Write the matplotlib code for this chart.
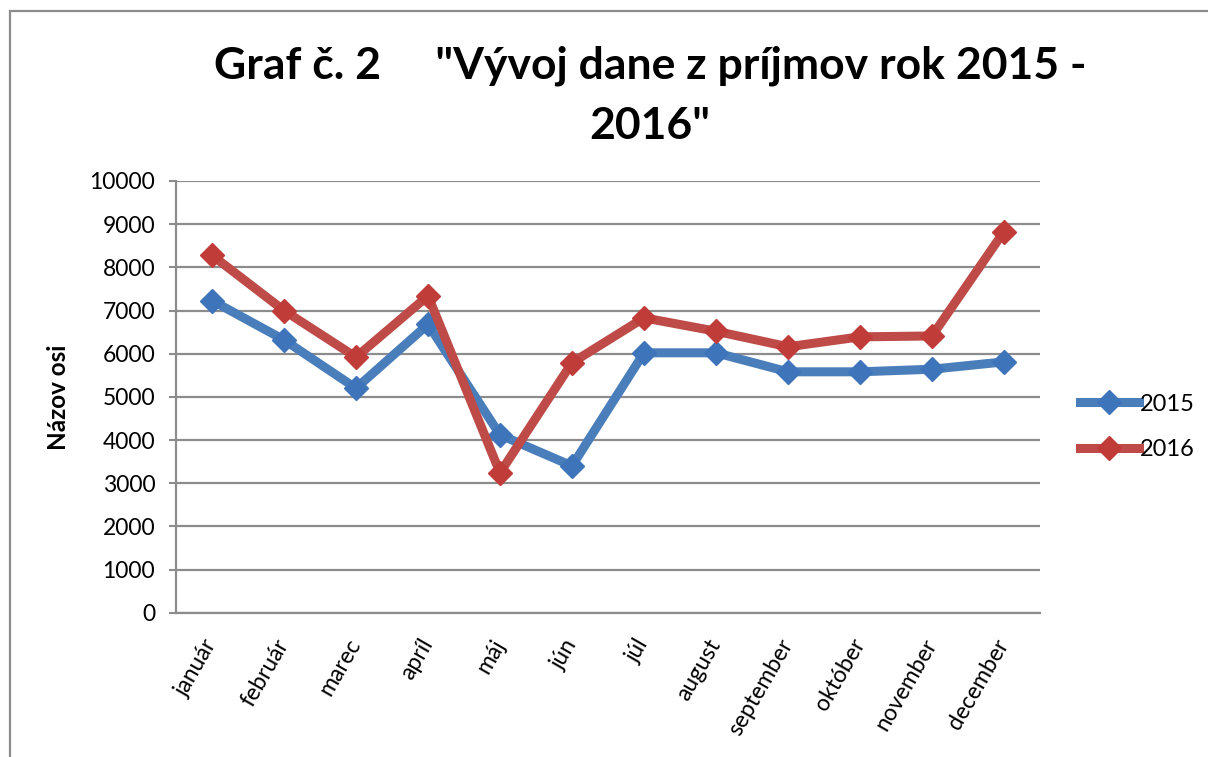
import matplotlib.pyplot as plt
from matplotlib.patches import Rectangle

mesiace = ['január', 'február', 'marec', 'apríl', 'máj', 'jún', 'júl',
           'august', 'september', 'október', 'november', 'december']
dan_2015 = [7230, 6320, 5200, 6680, 4120, 3400, 6020, 6020, 5580, 5580, 5640, 5810]
dan_2016 = [8280, 7000, 5920, 7340, 3240, 5790, 6830, 6520, 6160, 6390, 6410, 8830]
y_ticks = list(range(0, 10001, 1000))

plt.rcParams['font.family'] = ['Lato', 'DejaVu Sans']

fig = plt.figure(figsize=(12.08, 7.57), dpi=100)
ax = fig.add_axes([176 / 1208, 1 - 612.7 / 757, (1040 - 176) / 1208, (612.7 - 181) / 757])

# ramik okolo celeho grafu
fig.patches.append(Rectangle((9.5 / 1208, -0.1), 1.2, 1 - 10.5 / 757 + 0.1,
                             transform=fig.transFigure, fill=False,
                             edgecolor='#8c8c8c', lw=1.6))

x = range(len(mesiace))
ax.plot(x, dan_2015, color='#4a7ebb', lw=6.5, marker='D', ms=12,
        mfc='#3d74ba', mec='#3d74ba', label='2015', zorder=3)
ax.plot(x, dan_2016, color='#be4b48', lw=6.5, marker='D', ms=12,
        mfc='#c03c39', mec='#c03c39', label='2016', zorder=3)

ax.set_xlim(-0.5, len(mesiace) - 0.5)
ax.set_ylim(0, 10000)
ax.set_yticks(y_ticks)
ax.set_yticklabels([str(v) for v in y_ticks], fontsize=16.5)
ax.set_xticks(list(x))
ax.set_xticklabels(mesiace, fontsize=16.5, rotation=60, ha='right', va='center',
                   rotation_mode='anchor')
ax.tick_params(axis='x', length=0, pad=20)
ax.tick_params(axis='y', length=5, width=1.5, color='#8c8c8c', pad=10)

ax.grid(axis='y', color='#8c8c8c', lw=1.6)
ax.set_axisbelow(True)
for s in ['top', 'right']:
    ax.spines[s].set_visible(False)
for s in ['left', 'bottom']:
    ax.spines[s].set_color('#8c8c8c')
    ax.spines[s].set_linewidth(1.6)

ax.set_ylabel('Názov osi', fontsize=17.5, fontweight='bold', labelpad=14)

fig.text(0.538, 1 - 96 / 757, 'Graf č. 2     "Vývoj dane z príjmov rok 2015 -\n2016"',
         ha='center', va='center', fontsize=32, fontweight='bold',
         linespacing=1.6)

ax.legend(loc='center left', bbox_to_anchor=(1.035, 0.43), frameon=False,
          fontsize=17, handlelength=2.5, handletextpad=0.05, labelspacing=1.05,
          borderaxespad=0)

fig.savefig('out.png', dpi=100)
